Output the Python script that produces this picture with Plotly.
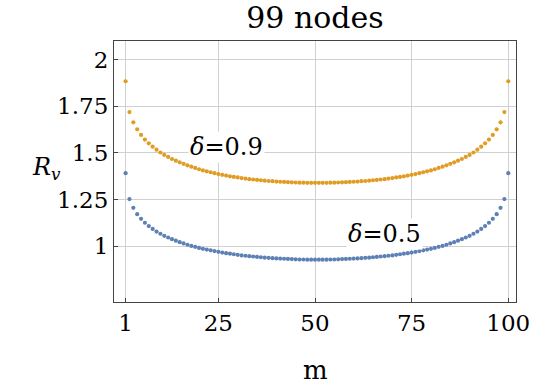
import plotly.graph_objects as go

m_values = list(range(1, 101))

r_delta_09 = [
    1.884, 1.719, 1.664, 1.626, 1.596, 1.571, 1.551, 1.533, 1.517, 1.502,
    1.489, 1.478, 1.467, 1.458, 1.449, 1.441, 1.433, 1.426, 1.419, 1.412,
    1.406, 1.401, 1.396, 1.391, 1.386, 1.382, 1.378, 1.374, 1.371, 1.368,
    1.365, 1.362, 1.359, 1.357, 1.355, 1.353, 1.351, 1.349, 1.348, 1.346,
    1.345, 1.344, 1.343, 1.342, 1.341, 1.340, 1.340, 1.339, 1.339, 1.339,
    1.339, 1.339, 1.339, 1.340, 1.340, 1.341, 1.342, 1.343, 1.344, 1.345,
    1.346, 1.348, 1.349, 1.351, 1.353, 1.355, 1.357, 1.359, 1.362, 1.365,
    1.368, 1.371, 1.374, 1.378, 1.382, 1.386, 1.391, 1.396, 1.401, 1.406,
    1.412, 1.419, 1.426, 1.433, 1.441, 1.449, 1.458, 1.467, 1.478, 1.489,
    1.502, 1.517, 1.533, 1.551, 1.571, 1.596, 1.626, 1.664, 1.719, 1.884,
]

r_delta_05 = [
    1.391, 1.252, 1.205, 1.171, 1.146, 1.125, 1.107, 1.092, 1.078, 1.066,
    1.055, 1.046, 1.037, 1.029, 1.021, 1.014, 1.007, 1.001, 0.996, 0.990,
    0.985, 0.981, 0.977, 0.973, 0.969, 0.965, 0.962, 0.959, 0.956, 0.953,
    0.950, 0.948, 0.946, 0.944, 0.942, 0.940, 0.938, 0.937, 0.935, 0.934,
    0.933, 0.932, 0.931, 0.930, 0.929, 0.928, 0.928, 0.927, 0.927, 0.927,
    0.927, 0.927, 0.927, 0.928, 0.928, 0.929, 0.930, 0.931, 0.932, 0.933,
    0.934, 0.935, 0.937, 0.938, 0.940, 0.942, 0.944, 0.946, 0.948, 0.950,
    0.953, 0.956, 0.959, 0.962, 0.965, 0.969, 0.973, 0.977, 0.981, 0.985,
    0.990, 0.996, 1.001, 1.007, 1.014, 1.021, 1.029, 1.037, 1.046, 1.055,
    1.066, 1.078, 1.092, 1.107, 1.125, 1.146, 1.171, 1.205, 1.252, 1.391,
]

x_tick_vals = [1, 25, 50, 75, 100]
y_tick_vals = [1, 1.25, 1.5, 1.75, 2]
y_tick_text = ["1", "1.25", "1.5", "1.75", "2"]

FONT = "DejaVu Serif"
BLUE = "#5E81B5"
ORANGE = "#E19C24"

fig = go.Figure()
fig.add_trace(go.Scatter(x=m_values, y=r_delta_09, mode="markers",
                         marker=dict(color=ORANGE, size=4.2), showlegend=False))
fig.add_trace(go.Scatter(x=m_values, y=r_delta_05, mode="markers",
                         marker=dict(color=BLUE, size=4.2), showlegend=False))

axis_common = dict(
    showline=True, linecolor="#444444", linewidth=1.2, mirror=True,
    showgrid=True, gridcolor="#d0d0d0", gridwidth=1,
    ticks="inside", ticklen=4, tickcolor="#444444",
    zeroline=False,
    tickfont=dict(family=FONT, size=23, color="black"),
)

plot_w = 542 - 114 - 18
plot_h = 392 - 41 - 90

fig.update_layout(
    width=542, height=392,
    margin=dict(l=114, r=18, t=41, b=90),
    paper_bgcolor="white", plot_bgcolor="white",
    font=dict(family=FONT),
    title=dict(text="99 nodes", x=0.5, xref="paper", xanchor="center",
               y=0.955, yanchor="middle",
               font=dict(family=FONT, size=30, color="black")),
    xaxis=dict(range=[-2, 102], tickvals=x_tick_vals, **axis_common),
    yaxis=dict(range=[0.7, 2.1], tickvals=y_tick_vals, ticktext=y_tick_text,
               **axis_common),
    annotations=[
        dict(text="<i>δ</i>=0.9", x=27, y=1.53, xref="x", yref="y",
             showarrow=False, bgcolor="white",
             font=dict(family=FONT, size=24, color="black")),
        dict(text="<i>δ</i>=0.5", x=68, y=1.067, xref="x", yref="y",
             showarrow=False, bgcolor="white",
             font=dict(family=FONT, size=24, color="black")),
        dict(text="<i>R</i><sub><i>v</i></sub>", x=(28 - 114) / plot_w,
             y=(302 - 168) / plot_h, xref="paper", yref="paper",
             showarrow=False,
             font=dict(family=FONT, size=24, color="black")),
        dict(text="m", x=0.5, y=-(370 - 302) / plot_h, xref="paper",
             yref="paper", showarrow=False, yanchor="middle",
             font=dict(family=FONT, size=26, color="black")),
    ],
)

fig.write_html("out.html")
